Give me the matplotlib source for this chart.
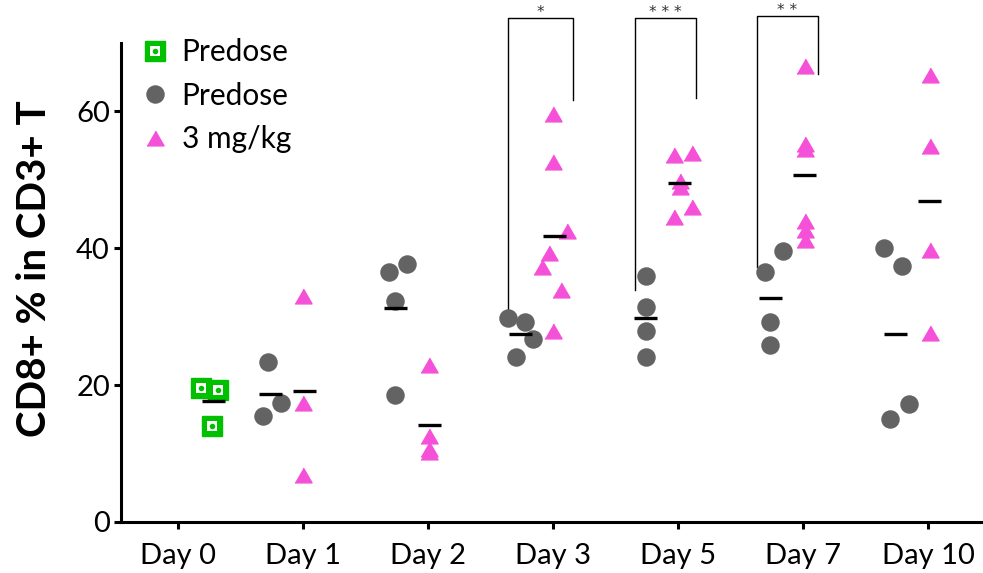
import numpy as np
import matplotlib
matplotlib.use("Agg")
import matplotlib.pyplot as plt
from matplotlib.lines import Line2D
from matplotlib.legend_handler import HandlerTuple

plt.rcParams['font.family'] = ['Lato', 'DejaVu Sans']

# categories
days = ["Day 0", "Day 1", "Day 2", "Day 3", "Day 5", "Day 7", "Day 10"]

# Day 0 predose (green squares)
predose0 = [19.6, 19.3, 14.0]

# Predose (grey circles), Day 1 .. Day 10
predose = [
    [23.4, 17.4, 15.5],
    [36.5, 37.7, 32.3, 18.5],
    [29.8, 29.3, 26.7, 24.1],
    [35.9, 31.4, 27.9, 24.1],
    [39.6, 36.5, 29.3, 25.8],
    [40.1, 37.4, 17.2, 15.0],
]

# 3 mg/kg (pink triangles), Day 1 .. Day 10
dosed = [
    [33.0, 17.4, 6.9],
    [23.0, 12.5, 10.7, 10.3],
    [59.6, 52.6, 42.5, 39.3, 37.2, 33.9, 27.9],
    [53.6, 53.9, 49.9, 48.9, 46.1, 44.5],
    [66.6, 55.2, 54.5, 44.0, 42.6, 41.2],
    [65.3, 54.9, 39.7, 27.6],
]

# significance labels
sig_labels = ["*", "* * *", "* *"]

# horizontal jitter (category units)
sq_dx = [0.18, 0.32, 0.27]
circ_dx = [
    [-0.28, -0.18, -0.32],
    [-0.31, -0.17, -0.26, -0.26],
    [-0.36, -0.22, -0.16, -0.30],
    [-0.26, -0.26, -0.26, -0.26],
    [-0.16, -0.30, -0.26, -0.26],
    [-0.35, -0.21, -0.15, -0.30],
]
tri_dx = [
    [0, 0, 0],
    [0.01, 0.01, 0.01, 0.01],
    [0, 0, 0.11, -0.03, -0.09, 0.06, 0],
    [-0.03, 0.11, 0.02, 0.02, 0.11, -0.03],
    [0.02] * 6,
    [0.02] * 4,
]

GREEN = '#00C000'
GREY = '#636363'
PINK = '#F550D8'
tri_marker = [(-1, -0.866), (1, -0.866), (0, 0.866)]

fig = plt.figure(figsize=(9.83, 5.73), dpi=100)
ax = fig.add_axes([121 / 983, 51 / 573, 862 / 983, 479 / 573])

x = np.arange(len(days))
half = 0.092

# Day 0 squares
xs = x[0] + np.array(sq_dx)
ax.plot(xs, predose0, ls='none', marker='s', ms=15, mfc=GREEN, mec=GREEN, zorder=3)
ax.plot(xs, predose0, ls='none', marker='s', ms=6.5, mfc='white', mec='white', mew=0, zorder=4)
ax.plot(xs, predose0, ls='none', marker='o', ms=4, mfc=GREEN, mec=GREEN, mew=0, zorder=5)
m0 = x[0] + 0.28
ax.hlines(np.mean(predose0), m0 - half, m0 + half, color='black', lw=2.4, zorder=6)

for i in range(len(predose)):
    d = x[i + 1]
    cx = d + np.array(circ_dx[i])
    ax.plot(cx, predose[i], ls='none', marker='o', ms=12.3, mfc=GREY, mec=GREY, zorder=3)
    ax.hlines(np.mean(predose[i]), d - 0.26 - half, d - 0.26 + half,
              color='black', lw=2.4, zorder=6)
    tx = d + np.array(tri_dx[i])
    ax.plot(tx, dosed[i], ls='none', marker=tri_marker, ms=12.3, mfc=PINK, mec=PINK, zorder=3)
    ax.hlines(np.mean(dosed[i]), d + 0.01 - half, d + 0.01 + half,
              color='black', lw=2.4, zorder=6)

# significance brackets: left x, right x, left bottom, right bottom, top
brackets = [
    (2.64, 3.16, 30.0, 61.6, 73.7),
    (3.656, 4.144, 33.9, 62.0, 73.7),
    (4.632, 5.12, 37.2, 65.5, 74.0),
]
for (xl, xr, yl, yr, yt), lab in zip(brackets, sig_labels):
    ax.plot([xl, xl, xr, xr], [yl, yt, yt, yr], color='black', lw=1.0,
            clip_on=False, zorder=2)
    ax.text((xl + xr) / 2, yt + 0.75, lab, ha='center', va='center',
            fontsize=11, family='DejaVu Sans', color='#333333', clip_on=False)

ax.set_xlim(-0.456, 6.44)
ax.set_ylim(0, 70)
ax.set_xticks(x)
ax.set_xticklabels(days)
ax.set_yticks([0, 20, 40, 60])
for s in ['top', 'right']:
    ax.spines[s].set_visible(False)
for s in ['left', 'bottom']:
    ax.spines[s].set_linewidth(2.2)
ax.tick_params(axis='both', width=2.2, length=5, labelsize=21, pad=3)
ax.tick_params(axis='x', pad=10)
ax.set_ylabel("CD8+ % in CD3+ T", fontsize=29, fontweight='bold')
ax.yaxis.set_label_coords(-0.079, 0.528)

h_sq = (Line2D([], [], ls='none', marker='s', ms=15, mfc=GREEN, mec=GREEN),
        Line2D([], [], ls='none', marker='s', ms=6.5, mfc='white', mec='white', mew=0),
        Line2D([], [], ls='none', marker='o', ms=4, mfc=GREEN, mec=GREEN, mew=0))
h_c = Line2D([], [], ls='none', marker='o', ms=12.3, mfc=GREY, mec=GREY)
h_t = Line2D([], [], ls='none', marker=tri_marker, ms=12.3, mfc=PINK, mec=PINK)
ax.legend([h_sq, h_c, h_t], ["Predose", "Predose", "3 mg/kg"],
          handler_map={tuple: HandlerTuple(ndivide=1)},
          loc='upper left', bbox_to_anchor=(0.023, 1.01), frameon=False,
          fontsize=21.5, handlelength=0.95, handletextpad=0.42,
          labelspacing=0.52, borderpad=0, borderaxespad=0)

fig.savefig("out.png", dpi=100)
